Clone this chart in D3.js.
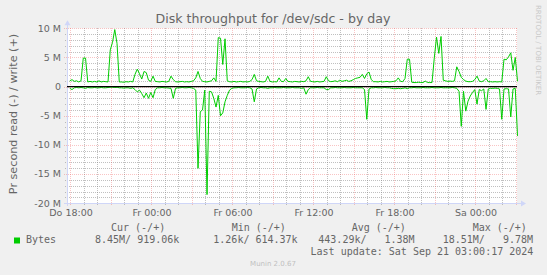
<!DOCTYPE html>
<html>
<head>
<meta charset="utf-8">
<script src="https://cdn.jsdelivr.net/npm/d3@7"></script>
<style>
  body { margin: 0; background: #f0f0f0; }
  text { font-family: "DejaVu Sans", sans-serif; fill: #666666; }
  .mono { font-family: "DejaVu Sans Mono", monospace; white-space: pre; }
</style>
</head>
<body>
<div id="chart"></div>
<script>
// write (+) and read (-) in MB/s, one sample every 10 minutes
const writeMB = [
  1.0, 1.2, 0.9, 1.0, 0.8, 1.0, 4.9, 4.9, 0.8, 0.9,
  0.8, 0.9, 0.8, 1.0, 0.8, 0.9, 0.85, 0.8, 6.3, 7.6,
  9.78, 7.4, 0.8, 0.8, 0.75, 0.85, 0.8, 0.9, 0.8, 2.1,
  3.0, 2.2, 1.3, 2.6, 2.4, 1.1, 0.9, 1.8, 0.9, 0.85,
  0.8, 0.9, 0.85, 0.8, 0.9, 1.8, 1.2, 0.85, 0.8, 0.85,
  0.9, 0.8, 0.85, 0.8, 0.9, 1.0, 1.5, 2.6, 1.4, 0.9,
  0.85, 0.8, 0.9, 1.0, 1.5, 0.9, 8.4, 8.3, 3.8, 8.2,
  1.0, 0.85, 0.8, 0.9, 0.8, 0.85, 0.9, 0.8, 0.85, 0.8,
  0.9, 1.2, 2.1, 1.0, 0.9, 0.85, 0.8, 0.9, 1.8, 0.9,
  0.8, 0.85, 0.8, 1.5, 0.9, 0.85, 1.4, 0.9, 0.85, 0.8,
  0.9, 0.85, 0.8, 0.9, 0.85, 1.0, 1.7, 0.9, 0.85, 0.8,
  0.9, 0.8, 0.85, 0.9, 1.7, 1.0, 0.85, 0.9, 1.0, 0.85,
  1.1, 0.9, 1.0, 1.1, 0.9, 1.0, 1.2, 1.4, 1.5, 1.6,
  2.1, 1.4, 2.2, 2.5, 1.2, 0.85, 0.85, 0.8, 0.9, 0.8,
  0.85, 0.9, 0.8, 0.85, 0.9, 1.0, 1.5, 0.9, 0.85, 1.4,
  4.7, 4.7, 0.75, 0.7, 0.7, 0.75, 0.7, 0.7, 0.95, 0.7,
  0.7, 0.7, 4.9, 8.5, 5.7, 8.6, 1.1, 1.0, 0.9, 0.95,
  0.9, 1.0, 3.4, 2.6, 1.6, 1.2, 0.95, 0.85, 0.85, 0.9,
  1.2, 1.8, 0.95, 0.85, 1.0, 1.4, 0.85, 0.85, 0.8, 0.85,
  0.8, 0.85, 0.8, 4.7, 4.6, 5.1, 5.8, 2.8, 5.0, 0.92
];
const readMB = [
  -0.3, -0.5, -0.2, -0.15, -0.2, -0.15, -0.2, -0.3, -0.15, -0.2,
  -0.2, -0.15, -0.2, -0.2, -0.15, -0.2, -0.2, -0.15, -0.1, -0.1,
  -0.15, -0.1, -0.2, -0.2, -0.25, -0.2, -0.2, -0.3, -0.2, -0.5,
  -0.9, -0.6, -1.2, -1.9, -1.1, -2.0, -1.0, -1.9, -0.5, -0.2,
  -0.2, -0.15, -0.2, -0.2, -0.25, -0.3, -2.0, -0.3, -0.2, -0.2,
  -0.15, -0.2, -0.2, -0.15, -0.2, -0.3, -0.6, -14.0, -4.3, -4.0,
  -0.6, -18.51, -0.8, -0.9, -2.0, -3.5, -1.5, -5.0, -4.5, -2.6,
  -1.5, -0.6, -0.3, -0.2, -0.2, -0.15, -0.2, -0.2, -0.2, -0.15,
  -0.2, -0.4, -2.6, -0.4, -0.2, -0.15, -0.2, -0.2, -0.3, -0.2,
  -0.2, -0.15, -0.2, -0.2, -0.2, -0.15, -0.2, -0.2, -0.2, -0.15,
  -0.2, -0.2, -0.2, -0.3, -0.2, -1.3, -0.5, -0.2, -0.2, -0.2,
  -0.15, -0.2, -0.2, -0.2, -0.5, -0.5, -0.2, -0.2, -0.15, -0.2,
  -0.2, -0.2, -0.15, -0.2, -0.2, -0.2, -0.15, -0.2, -0.2, -0.2,
  -0.2, -0.5, -5.6, -0.4, -0.2, -0.2, -0.15, -0.2, -0.2, -0.2,
  -0.15, -0.2, -0.2, -0.3, -0.35, -0.35, -0.3, -0.35, -0.3, -0.2,
  -0.35, -0.2, -0.2, -0.15, -0.2, -0.2, -0.2, -0.15, -0.2, -0.2,
  -0.2, -0.15, -0.2, -0.2, -0.2, -0.15, -0.2, -0.2, -0.2, -0.2,
  -0.15, -0.2, -0.3, -0.8, -6.8, -0.8, -4.2, -2.5, -1.6, -1.0,
  -0.5, -3.0, -0.5, -0.7, -0.4, -3.9, -0.4, -0.3, -0.3, -0.25,
  -0.3, -0.4, -5.6, -0.4, -0.35, -0.4, -5.2, -0.4, -0.3, -8.45
];
const firstSample = new Date(2024, 8, 19, 17, 59);
const stepMinutes = 10;

const yTickValues = [10, 5, 0, -5, -10, -15, -20];
const yTickLabels = ["10 M", "5 M", "0", "-5 M", "-10 M", "-15 M", "-20 M"];
const xTickTimes = [
  new Date(2024, 8, 19, 18), new Date(2024, 8, 20, 0), new Date(2024, 8, 20, 6),
  new Date(2024, 8, 20, 12), new Date(2024, 8, 20, 18), new Date(2024, 8, 21, 0)
];
const xTickLabels = ["Do 18:00", "Fr 00:00", "Fr 06:00", "Fr 12:00", "Fr 18:00", "Sa 00:00"];

const legendHeaders = ["Cur (-/+)", "Min (-/+)", "Avg (-/+)", "Max (-/+)"];
const legendValues = ["8.45M/ 919.06k", "1.26k/ 614.37k", "443.29k/   1.38M", "18.51M/   9.78M"];
const seriesName = "Bytes";
const lastUpdate = "Last update: Sat Sep 21 03:00:17 2024";

const width = 547, height = 275;
const plotLeft = 67, plotRight = 517, plotTop = 28.3, plotBottom = 203.3;
const green = "#00cc00";
const axisColor = "#cfd6f8";
const minorColor = "rgba(130,130,130,0.5)";
const majorColor = "rgba(235,70,70,0.32)";

const x = d3.scaleTime()
  .domain([new Date(2024, 8, 19, 17, 46, 40), new Date(2024, 8, 21, 3, 6, 40)])
  .range([plotLeft, plotRight]);
const y = d3.scaleLinear().domain([-20, 10]).range([plotBottom, plotTop]);

const times = writeMB.map((_, i) => new Date(firstSample.getTime() + i * stepMinutes * 60000));

const svg = d3.create("svg")
  .attr("width", width)
  .attr("height", height)
  .attr("viewBox", [0, 0, width, height]);

svg.append("rect").attr("width", width).attr("height", height).attr("fill", "#f0f0f0");
svg.append("rect")
  .attr("x", plotLeft).attr("y", plotTop)
  .attr("width", plotRight - plotLeft).attr("height", plotBottom - plotTop)
  .attr("fill", "#ffffff");

// grid
const grid = svg.append("g").attr("shape-rendering", "crispEdges").attr("stroke-dasharray", "1,1");
const px = v => Math.round(v) + 0.5;

const minorY = d3.range(-20, 11, 1).filter(v => v % 5 !== 0);
grid.selectAll(".gy").data(minorY).join("line")
  .attr("x1", plotLeft - 2).attr("x2", plotRight)
  .attr("y1", d => px(y(d))).attr("y2", d => px(y(d)))
  .attr("stroke", minorColor);

const [t0, t1] = x.domain();
const hours = d3.timeHour.range(t0, t1);
grid.selectAll(".gx").data(hours.filter(h => h.getHours() % 3 !== 0)).join("line")
  .attr("x1", d => px(x(d))).attr("x2", d => px(x(d)))
  .attr("y1", plotTop).attr("y2", plotBottom + 2)
  .attr("stroke", minorColor);

grid.selectAll(".my").data(yTickValues).join("line")
  .attr("x1", plotLeft - 3).attr("x2", plotRight)
  .attr("y1", d => px(y(d))).attr("y2", d => px(y(d)))
  .attr("stroke", majorColor);
grid.selectAll(".mx").data(hours.filter(h => h.getHours() % 3 === 0)).join("line")
  .attr("x1", d => px(x(d))).attr("x2", d => px(x(d)))
  .attr("y1", plotTop).attr("y2", plotBottom + 3)
  .attr("stroke", majorColor);

// axes
const axes = svg.append("g").attr("shape-rendering", "crispEdges").attr("stroke", axisColor);
axes.append("line").attr("x1", plotLeft + 0.5).attr("x2", plotLeft + 0.5)
  .attr("y1", plotBottom + 3).attr("y2", plotTop - 5);
axes.append("line").attr("x1", plotLeft - 3).attr("x2", plotRight + 6)
  .attr("y1", px(plotBottom)).attr("y2", px(plotBottom));
svg.append("path")
  .attr("d", `M${plotLeft - 2.5},${plotTop - 3} L${plotLeft + 0.5},${plotTop - 8} L${plotLeft + 3.5},${plotTop - 3} Z`)
  .attr("fill", axisColor);
svg.append("path")
  .attr("d", `M${plotRight + 4},${px(plotBottom) - 3} L${plotRight + 9},${px(plotBottom)} L${plotRight + 4},${px(plotBottom) + 3} Z`)
  .attr("fill", axisColor);

// series
const plot = svg.append("g");
plot.append("clipPath").attr("id", "clip")
  .append("rect").attr("x", plotLeft).attr("y", plotTop - 2)
  .attr("width", plotRight - plotLeft + 1).attr("height", plotBottom - plotTop + 2);

const line = d3.line().x((d, i) => x(times[i])).y(d => y(d));
plot.append("path").datum(readMB)
  .attr("clip-path", "url(#clip)")
  .attr("fill", "none").attr("stroke", green).attr("stroke-width", 1)
  .attr("d", line);
plot.append("path").datum(writeMB)
  .attr("clip-path", "url(#clip)")
  .attr("fill", "none").attr("stroke", green).attr("stroke-width", 1)
  .attr("d", line);

plot.append("line")
  .attr("x1", plotLeft).attr("x2", plotRight)
  .attr("y1", y(0)).attr("y2", y(0))
  .attr("stroke", "#000").attr("stroke-width", 1.2);

// tick labels
svg.selectAll(".yl").data(yTickValues).join("text")
  .attr("x", 61).attr("y", d => y(d) + 3.3)
  .attr("text-anchor", "end")
  .attr("font-size", 9.5)
  .text((d, i) => yTickLabels[i]);

svg.selectAll(".xl").data(xTickTimes).join("text")
  .attr("x", d => x(d) + 1).attr("y", 216)
  .attr("text-anchor", "middle")
  .attr("font-size", 9.5)
  .text((d, i) => xTickLabels[i]);

// titles
svg.append("text")
  .attr("x", 273).attr("y", 22.5)
  .attr("text-anchor", "middle")
  .attr("font-size", 12.6)
  .text("Disk throughput for /dev/sdc - by day");

svg.append("text")
  .attr("transform", `translate(16.5,114) rotate(-90)`)
  .attr("text-anchor", "middle")
  .attr("font-size", 11.2)
  .text("Pr second read (-) / write (+)");

svg.append("text")
  .attr("transform", "translate(536,5) rotate(90)")
  .attr("font-size", 7)
  .style("fill", "#c8c8c8")
  .text("RRDTOOL / TOBI OETIKER");

// legend
const headerX = [111, 231.7, 351.7, 472.7];
const valueX = [95, 213.3, 318.3, 442.7];
svg.selectAll(".lh").data(legendHeaders).join("text")
  .attr("class", "mono").attr("font-size", 10)
  .attr("x", (d, i) => headerX[i]).attr("y", 231)
  .text(d => d);
svg.append("rect").attr("x", 14).attr("y", 237.5).attr("width", 6).attr("height", 6).attr("fill", green);
svg.append("text").attr("class", "mono").attr("font-size", 10)
  .attr("x", 26).attr("y", 243.3).text(seriesName);
svg.selectAll(".lv").data(legendValues).join("text")
  .attr("class", "mono").attr("font-size", 10)
  .attr("x", (d, i) => valueX[i]).attr("y", 243.3)
  .text(d => d);
svg.append("text").attr("class", "mono").attr("font-size", 10)
  .attr("x", 533.3).attr("y", 255.3).attr("text-anchor", "end")
  .text(lastUpdate);

svg.append("text")
  .attr("x", 273).attr("y", 266)
  .attr("text-anchor", "middle")
  .attr("font-size", 7)
  .style("fill", "#c0c0c0")
  .text("Munin 2.0.67");

d3.select("#chart").append(() => svg.node());
</script>
</body>
</html>
